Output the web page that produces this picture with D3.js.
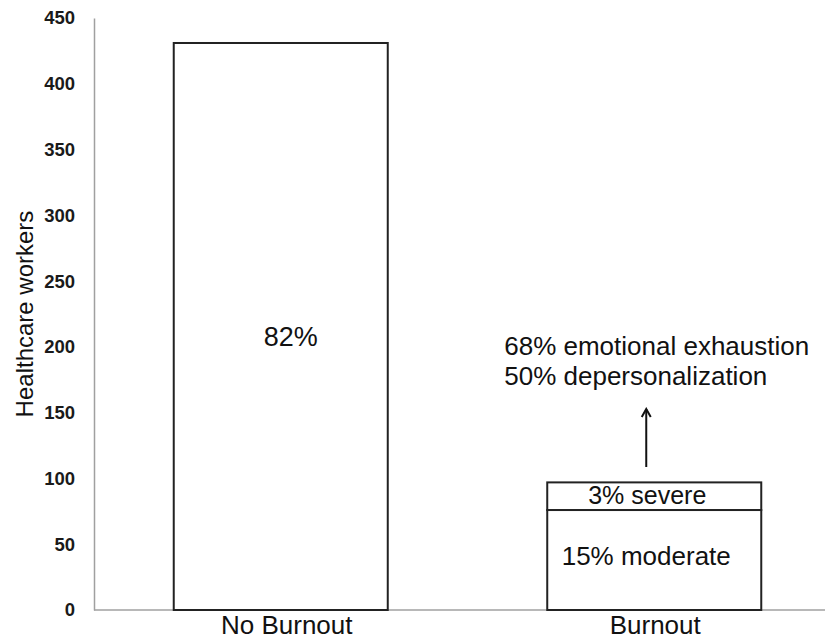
<!DOCTYPE html>
<html>
<head>
<meta charset="utf-8">
<script src="https://cdn.jsdelivr.net/npm/d3@7"></script>
<style>
  html, body { margin: 0; padding: 0; background: #fff; }
  svg { display: block; font-family: "Liberation Sans", Arial, Helvetica, sans-serif; }
</style>
</head>
<body>
<svg id="chart" width="825" height="640"></svg>
<script>
// ---- data ----
const categories = ["No Burnout", "Burnout"];
const noBurnoutValue = 431;          // total healthcare workers without burnout
const burnoutModerate = 76;          // moderate burnout
const burnoutSevere = 21;            // severe burnout
const yTicks = [0, 50, 100, 150, 200, 250, 300, 350, 400, 450];
const barLabels = { noBurnout: "82%", moderate: "15% moderate", severe: "3% severe" };
const annotationLines = ["68% emotional exhaustion", "50% depersonalization"];
const yTitle = "Healthcare workers";

// segments built from arrays
const segments = [
  { cat: "No Burnout", y0: 0, y1: noBurnoutValue },
  { cat: "Burnout", y0: 0, y1: burnoutModerate },
  { cat: "Burnout", y0: burnoutModerate, y1: burnoutModerate + burnoutSevere }
];

const svg = d3.select("#chart");
const mLeft = 94, mRight = 841, mTop = 18, mBottom = 610;

const x = d3.scaleBand().domain(categories).range([mLeft, mRight])
  .paddingInner(0.427).paddingOuter(0.2135);
const y = d3.scaleLinear().domain([0, 450]).range([mBottom, mTop]);

// y axis
const yAxis = d3.axisLeft(y).tickValues(yTicks).tickSize(0).tickPadding(19);
const gy = svg.append("g").attr("transform", `translate(${mLeft},0)`).call(yAxis);
gy.select(".domain").attr("stroke", "#a0a0a0").attr("stroke-width", 1.5);
gy.selectAll("text")
  .attr("font-size", 18.5).attr("font-weight", "bold").attr("fill", "#1a1a1a")
  .attr("font-family", "'Liberation Sans', Arial, sans-serif");

// baseline
svg.append("line")
  .attr("x1", mLeft).attr("x2", 825)
  .attr("y1", y(0)).attr("y2", y(0))
  .attr("stroke", "#a0a0a0").attr("stroke-width", 1.5);

// bars
svg.append("g").selectAll("rect").data(segments).join("rect")
  .attr("x", d => x(d.cat))
  .attr("width", x.bandwidth())
  .attr("y", d => y(d.y1))
  .attr("height", d => y(d.y0) - y(d.y1))
  .attr("fill", "#fff")
  .attr("stroke", "#222")
  .attr("stroke-width", 2);

// category labels
svg.append("g").selectAll("text").data(categories).join("text")
  .attr("x", (d, i) => x(d) + x.bandwidth() / 2 + (i === 0 ? 6 : 1))
  .attr("y", 634)
  .attr("text-anchor", "middle")
  .attr("font-size", 26)
  .attr("fill", "#111")
  .text(d => d);

// y title
svg.append("text")
  .attr("transform", `translate(33, ${(y(0) + y(450)) / 2}) rotate(-90)`)
  .attr("text-anchor", "middle")
  .attr("font-size", 24)
  .attr("fill", "#111")
  .text(yTitle);

// in-bar labels
const cx1 = x("No Burnout") + x.bandwidth() / 2;
const cx2 = x("Burnout") + x.bandwidth() / 2;
svg.append("text")
  .attr("x", cx1 + 10).attr("y", y(201))
  .attr("text-anchor", "middle").attr("font-size", 27).attr("fill", "#111")
  .text(barLabels.noBurnout);
svg.append("text")
  .attr("x", cx2 - 7).attr("y", y(80.5))
  .attr("text-anchor", "middle").attr("font-size", 25).attr("fill", "#111")
  .text(barLabels.severe);
svg.append("text")
  .attr("x", cx2 - 8).attr("y", y(34))
  .attr("text-anchor", "middle").attr("font-size", 26).attr("fill", "#111")
  .text(barLabels.moderate);

// annotation
svg.append("g").selectAll("text").data(annotationLines).join("text")
  .attr("x", x("Burnout") - 43)
  .attr("y", (d, i) => y(194) + i * 30)
  .attr("font-size", 26)
  .attr("fill", "#111")
  .text(d => d);

// arrow (marker drawn along +x; orient auto rotates it to the line direction)
svg.append("defs").append("marker")
  .attr("id", "arrowhead")
  .attr("viewBox", "0 0 12 12")
  .attr("refX", 10).attr("refY", 6)
  .attr("markerWidth", 12).attr("markerHeight", 12)
  .attr("markerUnits", "userSpaceOnUse")
  .attr("orient", "auto")
  .append("path")
  .attr("d", "M2,1.5 L10,6 L2,10.5")
  .attr("fill", "none").attr("stroke", "#111").attr("stroke-width", 2)
  .attr("stroke-linejoin", "miter");

svg.append("line")
  .attr("x1", cx2 - 8).attr("x2", cx2 - 8)
  .attr("y1", y(108.7)).attr("y2", y(152.8))
  .attr("stroke", "#111").attr("stroke-width", 2)
  .attr("marker-end", "url(#arrowhead)");
</script>
</body>
</html>
